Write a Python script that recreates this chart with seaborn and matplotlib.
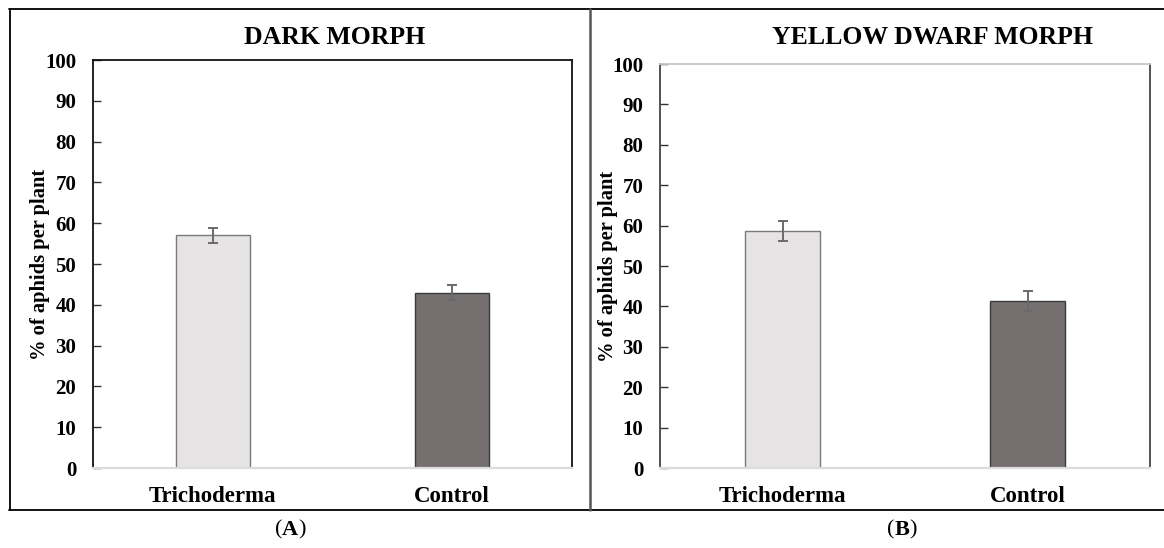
import matplotlib
matplotlib.use("Agg")
import matplotlib.pyplot as plt
import seaborn as sns
import pandas as pd
from matplotlib.lines import Line2D

sns.set_theme(style="white")
plt.rcParams['font.family'] = ['Liberation Serif', 'DejaVu Serif']
plt.rcParams['text.color'] = 'black'
plt.rcParams['axes.labelcolor'] = 'black'

categories = ["Trichoderma", "Control"]
dark_values = [57.0, 43.0]
dark_errors = [1.8, 1.8]
yellow_values = [58.7, 41.3]
yellow_errors = [2.4, 2.4]
titles = ["DARK MORPH", "YELLOW DWARF MORPH"]
panel_labels = ["A", "B"]
y_label = "% of aphids per plant"
bar_colors = ["#E6E2E4", "#766E6F"]
edge_colors = ["#7a7a7a", "#3c3c3c"]

W, H = 1164, 548
fig = plt.figure(figsize=(W / 100, H / 100), dpi=100)

def box(l, t, r, b):
    return [l / W, 1 - b / H, (r - l) / W, (b - t) / H]

axA = fig.add_axes(box(93, 60, 572, 468))
axB = fig.add_axes(box(660, 64, 1150, 468))

panels = [
    (axA, dark_values, dark_errors, titles[0], ("#111111", "#111111", "#111111", "#dcdcdc"), 335, 40, 93, 572),
    (axB, yellow_values, yellow_errors, titles[1], ("#444444", "#c8c8c8", "#444444", "#dcdcdc"), 932, 608, 660, 1150),
]

for ax, vals, errs, title, spine_cols, tx, ylx, l, r in panels:
    df = pd.DataFrame({"cat": categories, "val": vals})
    sns.barplot(data=df, x="cat", y="val", hue="cat", palette=bar_colors,
                width=0.31, errorbar=None, legend=False, ax=ax,
                linewidth=1.0)
    for patch, ec in zip(ax.patches, edge_colors):
        patch.set_edgecolor(ec)
    centers = [p.get_x() + p.get_width() / 2 for p in ax.patches]
    heights = [p.get_height() for p in ax.patches]
    ax.errorbar(centers, heights, yerr=errs, fmt="none", ecolor="#6a6a6a",
                elinewidth=1.4, capsize=3.5, capthick=1.4, zorder=5)
    ax.set_xlim(-0.5, 1.5)
    ax.set_ylim(0, 100)
    ax.set_yticks(range(0, 101, 10))
    ax.set_xlabel("")
    ax.set_ylabel(y_label, fontsize=14.8, fontweight="bold", color="black")
    ax.yaxis.label.set_va("center")
    ax.yaxis.set_label_coords((ylx - l) / (r - l), 0.5)
    ax.tick_params(axis="y", direction="in", length=6, width=1, colors="#333333",
                   labelcolor="black", labelsize=15, pad=12, left=True)
    ax.tick_params(axis="x", length=0, labelsize=16.5, pad=13, labelcolor="black")
    for lab in ax.get_yticklabels() + ax.get_xticklabels():
        lab.set_fontweight("bold")
    for side, c in zip(["left", "top", "right", "bottom"], spine_cols):
        ax.spines[side].set_visible(True)
        ax.spines[side].set_color(c)
        ax.spines[side].set_linewidth(1.3 if side != "bottom" else 1.6)
    fig.text(tx / W, 1 - 38 / H, title, ha="center", va="center",
             fontsize=18.5, fontweight="bold", color="black")

# panel frames
def hline(y, x0, x1, c="black", lw=1.3):
    fig.add_artist(Line2D([x0 / W, x1 / W], [1 - y / H, 1 - y / H], color=c, lw=lw))

def vline(x, y0, y1, c="black", lw=1.3):
    fig.add_artist(Line2D([x / W, x / W], [1 - y0 / H, 1 - y1 / H], color=c, lw=lw))

hline(8.5, 9, 1164)
hline(509.5, 9, 1164)
vline(9.5, 8.5, 509.5)
vline(590, 8.5, 509.5, c="#555555", lw=1.8)

renderer = fig.canvas.get_renderer()
for lab, x in zip(panel_labels, [290, 902]):
    y = 1 - 530 / H
    t = fig.text(x / W, y, lab, ha="center", va="center",
                 fontsize=16, fontweight="bold", color="black")
    bb = t.get_window_extent(renderer)
    fig.text(bb.x0 / W, y, "(", ha="right", va="center", fontsize=16, color="black")
    fig.text(bb.x1 / W, y, ")", ha="left", va="center", fontsize=16, color="black")

fig.savefig("out.png", dpi=100)
